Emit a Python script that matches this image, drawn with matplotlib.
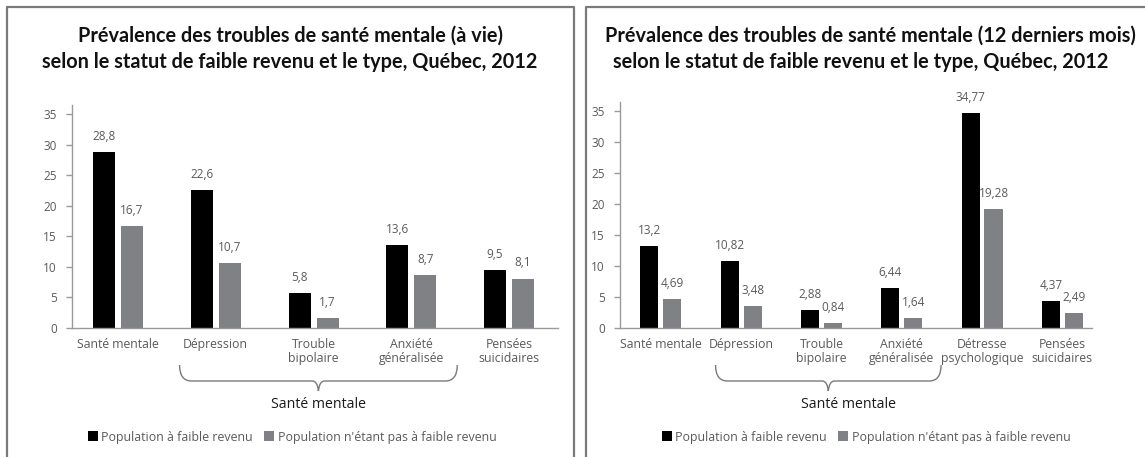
import matplotlib
matplotlib.use("Agg")
import matplotlib.pyplot as plt
from matplotlib.path import Path
from matplotlib.patches import PathPatch
from matplotlib.lines import Line2D
import numpy as np

# ---------------- data ----------------
series_names = ["Population à faible revenu", "Population n'étant pas à faible revenu"]

left_title = ["Prévalence des troubles de santé mentale (à vie)",
              "selon le statut de faible revenu et le type, Québec, 2012"]
left_categories = ["Santé mentale", "Dépression", "Trouble\nbipolaire",
                   "Anxiété\ngénéralisée", "Pensées\nsuicidaires"]
left_low = [28.8, 22.6, 5.8, 13.6, 9.5]
left_notlow = [16.7, 10.7, 1.7, 8.7, 8.1]

right_title = ["Prévalence des troubles de santé mentale (12 derniers mois)",
               "selon le statut de faible revenu et le type, Québec, 2012"]
right_categories = ["Santé mentale", "Dépression", "Trouble\nbipolaire",
                    "Anxiété\ngénéralisée", "Détresse\npsychologique", "Pensées\nsuicidaires"]
right_low = [13.2, 10.82, 2.88, 6.44, 34.77, 4.37]
right_notlow = [4.69, 3.48, 0.84, 1.64, 19.28, 2.49]

group_label = "Santé mentale"
yticks = [0, 5, 10, 15, 20, 25, 30, 35]

# ---------------- style ----------------
W, H = 1145, 457
TFONT = ["Lato", "DejaVu Sans"]
SFONT = ["Open Sans", "DejaVu Sans"]
BLACK = "#000000"
GRAY = "#808184"
TXT = "#5a5a5a"
AXC = "#9a9a9a"
BORDER = "#7a7a7a"

plt.rcParams["font.family"] = SFONT
fig = plt.figure(figsize=(W / 100, H / 100), dpi=100)


def fx(x):
    return x / W


def fy(y):
    return 1 - y / H


def draw_panel(px0, px1, title, title_cx, cats, low, notlow, xlim, ax_px, brace_span,
               legend_cx, label_dx):
    # panel border (open bottom)
    fig.add_artist(Line2D([fx(px0), fx(px0), fx(px1), fx(px1)],
                          [fy(H + 5), fy(7), fy(7), fy(H + 5)],
                          transform=fig.transFigure, color=BORDER, lw=1.6))
    # titles
    for i, line in enumerate(title):
        fig.text(fx(title_cx[i]), fy(36 + 26 * i), line, ha="center", va="center",
                 fontsize=14.3, fontweight="bold", color="#111111", family=TFONT)

    ax_l, ax_r, ax_bot, ax_top = ax_px
    ax = fig.add_axes([fx(ax_l), fy(ax_bot), (ax_r - ax_l) / W, (ax_bot - ax_top) / H])
    x = np.arange(len(cats))
    bw = 0.225
    off = 0.143
    b1 = ax.bar(x - off, low, bw, color=BLACK, label=series_names[0])
    b2 = ax.bar(x + off, notlow, bw, color=GRAY, label=series_names[1])
    for bars, vals in ((b1, low), (b2, notlow)):
        for rect, v in zip(bars, vals):
            ax.annotate(str(v).replace(".", ","),
                        (rect.get_x() + rect.get_width() / 2, rect.get_height()),
                        xytext=(0, 6.5), textcoords="offset points",
                        ha="center", va="bottom", fontsize=8.5, color=TXT)
    ax.set_xlim(*xlim)
    ax.set_ylim(0, 36.5)
    ax.set_yticks(yticks)
    ax.set_yticklabels([str(t) for t in yticks])
    ax.set_xticks(x)
    ax.set_xticklabels(cats, fontsize=8.8, color=TXT, linespacing=1.15)
    ax.tick_params(axis="x", length=0, pad=7)
    ax.tick_params(axis="y", length=4, color=AXC, width=1, labelsize=8.5,
                   labelcolor=TXT, pad=7)
    for s in ("top", "right"):
        ax.spines[s].set_visible(False)
    for s in ("left", "bottom"):
        ax.spines[s].set_color(AXC)
        ax.spines[s].set_linewidth(1)
    ax.patch.set_alpha(0)

    # brace under categories
    bx0 = ax.transData.transform((brace_span[0], 0))[0]
    bx1 = ax.transData.transform((brace_span[1], 0))[0]
    xc = (bx0 + bx1) / 2
    ytop, ymid, ytip, r = 365, 381, 391, 12
    pts = [(bx0, ytop), (bx0, ymid), (bx0 + r, ymid),
           (xc - 6, ymid), (xc - 1, ymid), (xc, ytip),
           (xc + 1, ymid), (xc + 6, ymid),
           (bx1 - r, ymid), (bx1, ymid), (bx1, ytop)]
    codes = [Path.MOVETO, Path.CURVE3, Path.CURVE3,
             Path.LINETO, Path.CURVE3, Path.CURVE3,
             Path.CURVE3, Path.CURVE3,
             Path.LINETO, Path.CURVE3, Path.CURVE3]
    verts = [(fx(a), fy(b)) for a, b in pts]
    fig.add_artist(PathPatch(Path(verts, codes), transform=fig.transFigure,
                             fill=False, edgecolor="#7a7a7a", lw=1))
    fig.text(fx(xc + label_dx), fy(404), group_label, ha="center", va="center",
             fontsize=10.2, color="#1a1a1a")

    fig.legend(handles=[b1, b2], loc="center", bbox_to_anchor=(fx(legend_cx), fy(437)),
               ncol=2, frameon=False, fontsize=8.9, handlelength=0.8, handleheight=0.8,
               handletextpad=0.3, columnspacing=0.9, labelcolor=TXT,
               bbox_transform=fig.transFigure)
    return ax


draw_panel(7, 574, left_title, (290, 290), left_categories, left_low, left_notlow,
           (-0.47, 4.5), (72, 558, 328, 105), (0.63, 3.47), 292, 0)
draw_panel(586, W + 10, right_title, (870, 861), right_categories, right_low, right_notlow,
           (-0.51, 5.37), (620, 1092, 328, 102), (0.68, 3.49), 866, 20)

fig.savefig("out.png", dpi=100)
